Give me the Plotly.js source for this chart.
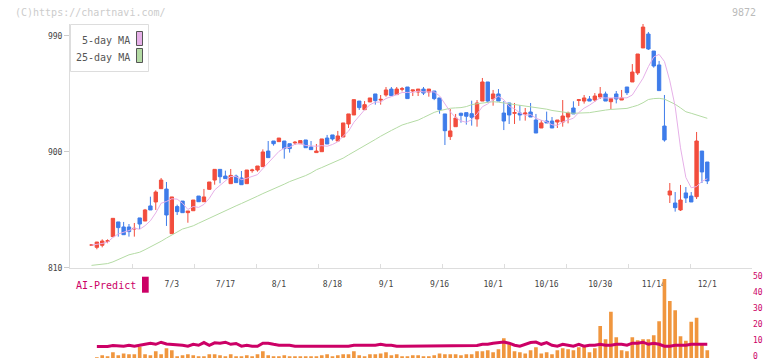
<!DOCTYPE html>
<html><head><meta charset="utf-8">
<script src="https://cdn.plot.ly/plotly-3.0.1.min.js"></script>
<style>html,body{margin:0;padding:0;background:#fff;}#chart{width:772px;height:361px;}</style>
</head><body><div id="chart"></div>
<script>
const dates = ['6/12','6/13','6/16','6/17','6/18','6/19','6/20','6/23','6/24','6/25','6/26','6/27','6/30',
'7/1','7/2','7/3','7/4','7/7','7/8','7/9','7/10','7/11','7/14','7/15','7/16','7/17','7/18','7/22','7/23','7/24','7/25','7/28','7/29','7/30','7/31',
'8/1','8/4','8/5','8/6','8/7','8/8','8/12','8/13','8/14','8/15','8/18','8/19','8/20','8/21','8/22','8/25','8/26','8/27','8/28','8/29',
'9/1','9/2','9/3','9/4','9/5','9/8','9/9','9/10','9/11','9/12','9/16','9/17','9/18','9/19','9/22','9/24','9/25','9/26','9/29','9/30',
'10/1','10/2','10/3','10/6','10/7','10/8','10/9','10/10','10/14','10/15','10/16','10/17','10/20','10/21','10/22','10/23','10/24','10/27','10/28','10/29','10/30','10/31',
'11/4','11/5','11/6','11/7','11/10','11/11','11/12','11/13','11/14','11/17','11/18','11/19','11/20','11/21','11/25','11/26','11/27','11/28',
'12/1'];
const tickDates = ['7/3','7/17','8/1','8/18','9/1','9/16','10/1','10/16','10/30','11/14','12/1'];

const openP = [827.6,825.8,827.4,830.5,834.1,845.5,841.6,841.6,840,848.6,846.2,857.9,861,871.3,871,836.4,857.4,861.7,852.7,854.2,
865.6,861.2,870.8,878,886.3,881.1,875.2,881.1,879.6,875.2,885.3,885.8,888.4,900.5,908.3,907.8,908.3,906.2,906.8,906.2,
909.1,903.7,899.3,900,910.6,913,908.3,911.4,921.5,928.5,939.3,932.6,938.6,944.8,940.1,944,948.6,944.3,948.4,950.2,
947.1,946.3,948.6,946.3,947.1,941.7,929.3,911.7,919.4,929.8,930.3,929.5,925.4,939.3,954.1,940.9,944.8,930,937.8,929.8,
930,929.3,930.8,924.6,918.4,923.8,923.8,923,923,926.9,933.9,939.8,939.3,940.9,940.1,942.4,944.8,938.8,944.8,940.1,
950.2,954.1,961.1,980.5,991.3,978.1,967.3,919.9,866.4,860.2,854.8,868,865.6,865.1,900.5,892];
const highP = [828,830,832,832,848.3,845.5,845.5,843.9,844.7,848.6,855.6,865.1,870,879.6,876.5,864.9,858.9,861.7,854,862.5,
865.6,871.1,876.5,886.3,886.3,885.3,886.6,882.2,885,885.8,886.8,888.9,901.8,908.3,908.3,910.6,908.3,906.2,908.3,908.6,
909.1,908.3,906,909.9,913,913,916.1,922.3,929.3,940.4,939.3,939.3,941.7,944.8,944,950.2,950.2,950.2,950.2,950.2,
947.9,948.6,950.2,948.6,947.1,941.7,929.3,933.1,929.3,930.3,930.3,939.6,940.1,957.2,954.1,947.9,948.6,939.3,937.8,937.8,
936.2,933.9,937.8,929.3,924.6,931.1,926.9,924.6,940.1,931.1,939.1,940.9,944,943.2,945.5,950.2,946.6,941.2,947.1,947.9,
950.2,968,975.8,999.1,992.9,978.1,970.4,944,875.7,868.7,874.2,872.6,868.7,915.3,900.5,892];
const lowP = [827,824.3,825.8,829,834.1,834.1,835.6,834.1,834.1,840,846.2,854.8,854.8,871.3,842.4,836.4,850.9,852.7,844.9,854.2,
861.2,861.2,870.3,874.4,875.5,879.1,875.2,876,874.4,875.2,883.7,884.5,888.4,895.4,904.7,907.8,894.6,899.3,905.2,906.2,
903.1,901.6,899.3,900,906,908.6,908.3,911.4,918.4,928.5,932.4,932.6,938.6,936.5,936.5,942.7,943.5,944.3,946.8,941.2,
943.2,943.2,944,942.7,940,929.5,905.2,909.1,919.4,922.5,921,920.2,919.4,939.3,937.8,935.7,939.3,916.8,921.5,921.5,
924.1,924.1,926.9,914.5,918.4,922.3,918.4,918.4,919.4,922,929.3,935.5,937.3,939.3,938.6,940.9,939.3,933.1,937.5,940.1,
944,954.1,959.5,980.5,978.9,965.2,947.4,907.8,860.2,853.5,854,860.2,861,863.3,875.7,874.9];
const closeP = [827.6,829.9,830.7,830.9,848.3,841.1,835.6,838,840.5,843.9,854.8,854.8,868.7,878,850.9,864.9,853.5,852.7,854,862.5,
861.2,864.9,876.5,886.3,880.6,879.1,881.6,876,874.4,885.8,885.8,888.9,899.8,895.4,906.2,910.6,902.4,902.4,907.3,908.6,
903.1,901.6,900.5,909.9,906,909.9,912.2,922.3,929.3,940.4,934.2,936.5,941.7,939.6,940.6,947.9,943.5,948.6,948.9,941.2,
947.9,948.6,945.5,948.6,941.2,932.6,916.3,916.1,926.1,928.2,927.5,926.7,937.8,954.1,939.3,944.8,939.3,923.8,928.5,930.3,
928.5,930,926.9,914.5,922.3,922.3,918.4,924.6,927.7,930,929.3,940.3,941.7,939.3,943.2,944.8,939.3,941.2,940.9,941.7,
945.8,961.8,975.8,996.7,979.7,966.5,947.4,909.1,869.5,856.6,862.5,864.1,861,908.3,884.3,877.3];

const ma5 = [827.5,828,828.8,829.8,833.5,836.2,837.3,838.8,840.7,839.8,842.6,846.4,852.5,860,861.4,863.5,863.2,860,855.2,857.5,
856.8,859.1,863.8,870.3,873.9,877.5,880.8,880.7,878.3,879.4,880.7,882.2,886.9,891.1,895.2,900.2,902.9,903.4,905.8,906.3,
904.8,904.6,904.2,904.7,904.2,905.6,907.7,912.1,915.9,922.8,927.7,932.5,936.4,938.5,938.5,941.3,942.7,944,945.9,946,
946,947,946.4,946.4,946.4,943.3,936.8,931,926.5,923.9,922.8,924.9,929.3,934.9,937.1,940.5,943.1,940.3,935.1,933.3,
930.1,928.2,928.8,926,924.4,923.2,920.9,920.4,923.1,924.6,926,930.4,933.8,936.1,938.8,941.9,941.7,941.6,941.9,941.6,
941.8,944,950,957,966,973.5,975.5,970,955,935,903,880,872,873,877,879];
const ma25 = [811.8,812.2,812.6,813.2,814.5,816.2,818,820,821,822,824,826,828.5,830.5,833,835.5,838,840,841.2,842.5,
844.5,846.5,848.5,850.5,852.3,854,856,858,859.8,861.5,863.5,865.5,867.5,869.2,871,872.9,874.8,876.8,878.4,879.5,
881.5,883.5,886,887.7,889.5,891.2,893,895,897.5,899.8,902.2,904.6,907,909.5,912,914.5,916.5,918.6,920.7,922,
923.3,924.5,926.5,928.5,930.5,931.8,932.8,933.7,934,934.2,935,936.5,937.2,937.8,938.6,938.8,938.4,937.8,937.3,936.8,
936.3,935.8,935.1,934.4,934,933,932,931.3,930.8,930.2,929.8,929.8,930,930.3,931,931.8,932.3,932.8,933.2,933.4,
933.6,934.8,936,938,940.5,941.2,941.4,940.8,939,936.8,934,931,929.8,928.5,927.2,925.9];

const volume = [null,0.4,1.7,1.1,3.6,1.7,2.9,2.3,2.3,7.1,2.3,1.7,4.2,2.3,6.1,4.8,1.1,1.7,2.3,1.7,
1.1,1.1,2.3,2.3,1.7,1.1,2.3,1.1,1.1,1.7,1.1,2.3,4.2,1.7,1.1,1.1,1.7,1.1,1.1,1.1,
1.1,1.1,1.1,1.7,2.3,1.1,1.7,2.3,2.3,4.2,1.7,1.1,2.3,2.3,2.9,3.6,1.7,2.3,1.1,1.1,
1.7,1.7,1.1,1.1,1.7,2.9,2.3,2.3,2.3,1.7,2.3,2.3,4.2,4.2,4.8,3.6,5.5,12.4,8.6,4.2,
3.6,2.9,4.8,6.7,2.9,3.6,2.3,4.8,6.1,5.5,4.8,6.7,7.4,3.6,6.1,20,11.8,29,13,4.8,
4.2,13,11.1,11.8,11.8,14.3,23,49.6,35.7,30,13.7,10.9,22.7,25.2,9,4.8];
const aiPredict = [null,7.2,7.2,7.2,7.8,7.4,7.4,8,7.4,8,8.6,9.3,8.6,9.9,8.8,8.6,8.6,8,7.4,8.6,
8,9.7,8,9.5,9.3,9.9,8.6,9.1,7.4,8,7.4,7.4,9.3,9.3,8.6,8,8,8,7.4,7.4,
7.4,7.4,7.4,7.4,7.4,7.4,7.4,7.4,7.4,8,8,8,8,8,8.6,8,8,7.4,7.4,7.4,
7.4,7.4,7.4,7.4,7.4,7.4,7.4,7.4,7.4,7.4,7.4,7.4,7.8,8.6,8.6,9.3,9.7,10,9.3,8,
7.4,8.6,9.7,10,8.6,9.7,8,7.4,8.6,8,7.4,8.6,7.4,8,8,8.6,8,8,8.6,8.6,
8,9.3,9.3,9.9,8.6,9.3,8.6,7.4,7.4,8,8,8,8.6,8.6,8.6,8.6];

const RED = '#f24d3d', BLUE = '#3e7cea', PINK = '#e6b0e8', GREEN = '#b4dba4';
const ORANGE = '#f0963e', CRIMSON = '#cc0066';
const MONO = 'DejaVu Sans Mono, monospace';

const W = 772, H = 361, ML = 70, MR = 20, MT = 24, MB = 3;
const PW = W - ML - MR, PH = H - MT - MB;
const px = x => (x - ML) / PW;
const py = y => (H - MB - y) / PH;

const traces = [
  {type:'candlestick', x:dates, open:openP, high:highP, low:lowP, close:closeP,
   xaxis:'x', yaxis:'y', whiskerwidth:0, hoverinfo:'skip', showlegend:false,
   increasing:{line:{color:RED,width:1}, fillcolor:RED},
   decreasing:{line:{color:BLUE,width:1}, fillcolor:BLUE}},
  {type:'scatter', mode:'lines', x:dates, y:ma25, xaxis:'x', yaxis:'y',
   line:{color:GREEN,width:1}, hoverinfo:'skip', showlegend:false},
  {type:'scatter', mode:'lines', x:dates, y:ma5, xaxis:'x', yaxis:'y',
   line:{color:PINK,width:1}, hoverinfo:'skip', showlegend:false},
  {type:'scatter', mode:'lines', x:[0,11], y:[null,null], xaxis:'x3', yaxis:'y',
   hoverinfo:'skip', showlegend:false},
  {type:'bar', x:dates, y:volume, xaxis:'x2', yaxis:'y2', width:0.68,
   marker:{color:ORANGE, line:{width:0}}, hoverinfo:'skip', showlegend:false},
  {type:'scatter', mode:'lines', x:dates, y:aiPredict, xaxis:'x2', yaxis:'y2',
   line:{color:CRIMSON,width:3}, hoverinfo:'skip', showlegend:false}
];

const xr = [-4.015, 123.35];
const layout = {
  width:W, height:H, margin:{l:ML, r:MR, t:MT, b:MB},
  paper_bgcolor:'#fff', plot_bgcolor:'#fff', showlegend:false,
  font:{family:MONO, size:10, color:'#555'},
  boxgap:0.1,
  xaxis:{type:'category', range:xr, domain:[0,1], anchor:'y', fixedrange:true,
    showline:true, linecolor:'#dddddd', linewidth:1, showgrid:false, zeroline:false,
    rangeslider:{visible:false},
    ticks:'outside', ticklen:9, tickcolor:'rgba(0,0,0,0)',
    tickvals:tickDates, ticktext:tickDates, tickangle:0,
    tickfont:{family:MONO, size:8, color:'#444'}},
  xaxis3:{overlaying:'x', anchor:'y', range:[0,11], tickvals:[0,1,2,3,4,5,6,7,8,9,10,11],
    ticks:'inside', ticklen:4, tickcolor:'#dddddd', tickwidth:1, showticklabels:false,
    showline:false, showgrid:false, zeroline:false, fixedrange:true},
  xaxis2:{type:'category', range:xr, domain:[0,1], anchor:'y2', fixedrange:true,
    showline:false, showgrid:false, zeroline:false, showticklabels:false, ticks:''},
  yaxis:{domain:[py(267.7),1], range:[810, 999.08], anchor:'x', fixedrange:true,
    tickvals:[810,900,990], ticks:'outside', ticklen:5, tickcolor:'#cccccc',
    showline:true, linecolor:'#dddddd', linewidth:1, showgrid:false, zeroline:false,
    tickfont:{family:MONO, size:8, color:'#444'}},
  yaxis2:{domain:[0,py(278.3)], range:[0,50], anchor:'x2', side:'right', fixedrange:true,
    tickvals:[0,10,20,30,40,50], ticks:'', showline:false, showgrid:false, zeroline:false,
    ticklabeloverflow:'allow', ticklabelshift:-2,
    tickfont:{family:MONO, size:8, color:CRIMSON}},
  shapes:[
    {type:'rect', xref:'paper', yref:'paper', x0:px(70.5), x1:px(148.5), y0:py(24.5), y1:py(71.5),
     line:{color:'#dddddd', width:1}, fillcolor:'#ffffff', layer:'above'},
    {type:'rect', xref:'paper', yref:'paper', x0:px(136.5), x1:px(142.5), y0:py(31.5), y1:py(45.5),
     line:{color:'#555', width:1}, fillcolor:PINK, layer:'above'},
    {type:'rect', xref:'paper', yref:'paper', x0:px(136.5), x1:px(142.5), y0:py(48.5), y1:py(62.5),
     line:{color:'#555', width:1}, fillcolor:GREEN, layer:'above'},
    {type:'rect', xref:'paper', yref:'paper', x0:px(142), x1:px(148.7), y0:py(276.7), y1:py(292.7),
     line:{width:0}, fillcolor:CRIMSON, layer:'above'}
  ],
  annotations:[
    {text:'(C)https://chartnavi.com/', xref:'paper', yref:'paper', x:px(13), y:py(12.7),
     xanchor:'left', yanchor:'middle', showarrow:false, font:{family:MONO, size:10, color:'#cccccc'}},
    {text:'9872', xref:'paper', yref:'paper', x:px(758), y:py(12.3),
     xanchor:'right', yanchor:'middle', showarrow:false, font:{family:MONO, size:10, color:'#bbbbbb'}},
    {text:'5-day MA', xref:'paper', yref:'paper', x:px(131.5), y:py(40.7),
     xanchor:'right', yanchor:'middle', showarrow:false, font:{family:MONO, size:10, color:'#555'}},
    {text:'25-day MA', xref:'paper', yref:'paper', x:px(131.5), y:py(57.3),
     xanchor:'right', yanchor:'middle', showarrow:false, font:{family:MONO, size:10, color:'#555'}},
    {text:'AI-Predict', xref:'paper', yref:'paper', x:px(74), y:py(285.7),
     xanchor:'left', yanchor:'middle', showarrow:false, font:{family:MONO, size:10, color:CRIMSON}}
  ]
};
Plotly.newPlot('chart', traces, layout, {staticPlot:true, displayModeBar:false});
</script></body></html>
